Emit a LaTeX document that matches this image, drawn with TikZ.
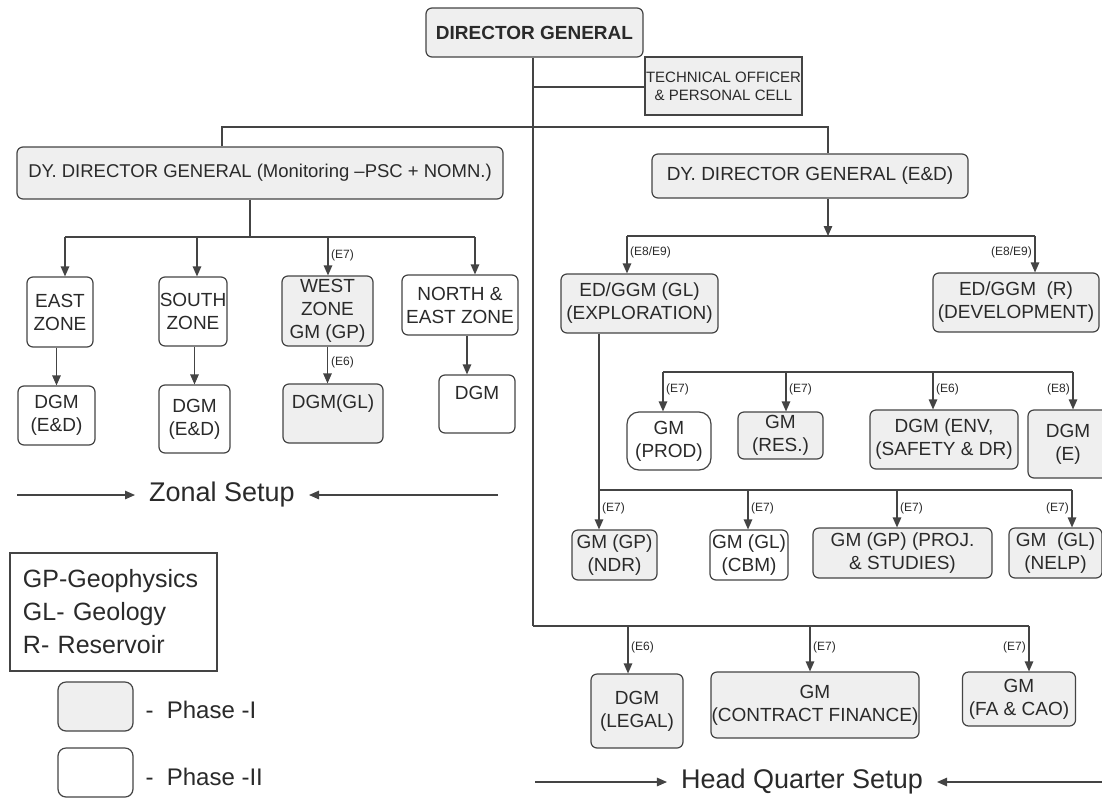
\documentclass[tikz,border=0pt]{standalone}
\usepackage{fontspec}
\setmainfont{Liberation Sans}
\usetikzlibrary{arrows.meta}
\definecolor{ink}{HTML}{2A2A2A}
\definecolor{edge}{HTML}{444444}
\definecolor{shade}{HTML}{EFEFEF}
\tikzset{
  box/.style={draw=edge, line width=1.2pt, rounded corners=6pt, align=center, text=ink,
              inner sep=0pt, font=\fontsize{19}{23}\selectfont},
  pone/.style={box, fill=shade},
  ptwo/.style={box, fill=white},
  wire/.style={draw=edge, line width=1.2pt},
  arr/.style={wire, -{Triangle[length=10pt,width=8.5pt]}},
  grade/.style={text=ink, font=\fontsize{12}{12}\selectfont, inner sep=1pt},
  setup/.style={text=ink, font=\fontsize{27}{27}\selectfont, inner xsep=14pt},
}
\begin{document}
\begin{tikzpicture}[x=1pt,y=-1pt]
\useasboundingbox[fill=white] (0,0) rectangle (1102,798);

% ---- top
\node[pone, minimum width=217pt, minimum height=49pt] (dg) at (534.5,32.5) {\bfseries DIRECTOR GENERAL};
\node[pone, sharp corners, minimum width=157pt, minimum height=58pt, font=\fontsize{15}{18}\selectfont] (tech) at (723.5,86) {TECHNICAL OFFICER\\\& PERSONAL CELL};
\node[pone, minimum width=486pt, minimum height=52pt, font=\fontsize{18.5}{23}\selectfont] (ldd) at (260,173) {DY. DIRECTOR GENERAL (Monitoring –PSC + NOMN.)};
\node[pone, minimum width=316pt, minimum height=44pt] (rdd) at (810,176) {DY. DIRECTOR GENERAL (E\&D)};

\coordinate (tj) at (533,87);
\coordinate (t1) at (222,127);
\coordinate (t2) at (828,127);
\coordinate (hq0) at (533,626);
\draw[wire] (dg.south -| hq0) -- (hq0);
\draw[wire] (tj) -- (tj -| tech.west);
\draw[wire] (t1 |- ldd.north) -- (t1) -- (t2) -- (t2 |- rdd.north);

% ---- zonal
\node[ptwo, minimum width=66pt, minimum height=70pt] (east) at (60,312) {EAST\\ZONE};
\node[ptwo, minimum width=68pt, minimum height=69pt] (south) at (193,311.5) {SOUTH\\ZONE};
\node[pone, minimum width=91pt, minimum height=70pt] (west) at (327.5,311) {WEST\\ZONE\\GM (GP)};
\node[ptwo, minimum width=116pt, minimum height=60pt] (ne) at (460,305) {NORTH \&\\EAST ZONE};
\node[ptwo, minimum width=77pt, minimum height=59pt] (dgma) at (56.5,415.5) {DGM\\(E\&D)};
\node[ptwo, minimum width=71pt, minimum height=68pt] (dgmb) at (194.5,419) {DGM\\(E\&D)};
\node[pone, minimum width=100pt, minimum height=59pt] (dgmgl) at (333,413.5) {DGM(GL)\\\mbox{}};
\node[ptwo, minimum width=76pt, minimum height=58pt] (dgmd) at (477,404) {DGM\\\mbox{}};

\coordinate (lj) at (250,237);
\coordinate (z1) at (65,237);
\coordinate (z2) at (197,237);
\coordinate (z3) at (328,237);
\coordinate (z4) at (475,237);
\coordinate (nx) at (467,0);
\draw[wire] (ldd.south -| lj) -- (lj);
\draw[wire] (z1) -- (z4);
\draw[arr] (z1) -- (z1 |- east.north);
\draw[arr] (z2) -- (z2 |- south.north);
\draw[arr] (z3) -- (z3 |- west.north);
\draw[arr] (z4) -- (z4 |- ne.north);
\draw[arr] (east.south -| dgma.north) -- (dgma.north);
\draw[arr] (south.south -| dgmb.north) -- (dgmb.north);
\draw[arr] (west.south) -- (west.south |- dgmgl.north);
\draw[arr] (ne.south -| nx) -- (dgmd.north -| nx);
\node[grade, anchor=west] (lz3) at (330,255) {(E7)};
\node[grade, anchor=west] (lgl) at (330,362) {(E6)};

\node[setup] (zonal) at (222,495) {Zonal Setup};
\coordinate (za) at (17,495);
\coordinate (zb) at (498,495);
\draw[arr] (za) -- (zonal.west);
\draw[arr] (zb) -- (zonal.east);

% ---- legend
\node[draw=edge, line width=1.2pt, text=ink, align=left, text width=181pt, inner xsep=13pt,
      minimum height=118pt, font=\fontsize{25}{33}\selectfont] (legend) at (113.5,612) {GP-Geophysics\\GL- Geology\\R- Reservoir};
\node[pone, rounded corners=8pt, minimum width=75pt, minimum height=49pt] (ph1) at (95.5,706.5) {};
\node[ptwo, rounded corners=8pt, minimum width=75pt, minimum height=49pt] (ph2) at (95.5,772.5) {};
\node[text=ink, anchor=west, font=\fontsize{24}{24}\selectfont] (tph1) at (142,710) {-\ \ Phase -I};
\node[text=ink, anchor=west, font=\fontsize{24}{24}\selectfont] (tph2) at (142,777) {-\ \ Phase -II};

% ---- E&D
\node[pone, minimum width=157pt, minimum height=59pt] (expl) at (639.5,303.5) {ED/GGM (GL)\\(EXPLORATION)};
\node[pone, minimum width=166pt, minimum height=59pt] (dev) at (1016,302.5) {ED/GGM~~(R)\\(DEVELOPMENT)};
\coordinate (rj) at (828,236);
\coordinate (e1) at (627,236);
\coordinate (e2) at (1035,236);
\draw[arr] (rdd.south -| rj) -- (rj);
\draw[wire] (e1) -- (e2);
\draw[arr] (e1) -- (e1 |- expl.north);
\draw[arr] (e2) -- (e2 |- dev.north);
\node[grade, anchor=west] (le1) at (629,252) {(E8/E9)};
\node[grade, anchor=east] (le2) at (1033,252) {(E8/E9)};

\node[ptwo, rounded corners=12pt, minimum width=84pt, minimum height=58pt] (prod) at (669,441) {GM\\(PROD)};
\node[pone, minimum width=85pt, minimum height=47pt] (res) at (780.5,435.5) {GM\\(RES.)};
\node[pone, minimum width=148pt, minimum height=59pt] (env) at (944,439.5) {DGM (ENV,\\(SAFETY \& DR)};
\node[pone, minimum width=80pt, minimum height=68pt] (dgme) at (1068,444) {DGM\\(E)};
\coordinate (u0) at (663,372);
\coordinate (u1) at (786,372);
\coordinate (u2) at (933,372);
\coordinate (u3) at (1073,372);
\draw[wire] (u0) -- (u3);
\draw[arr] (u0) -- (u0 |- prod.north);
\draw[arr] (u1) -- (u1 |- res.north);
\draw[arr] (u2) -- (u2 |- env.north);
\draw[arr] (u3) -- (u3 |- dgme.north);
\node[grade, anchor=west] (lu0) at (665,389) {(E7)};
\node[grade, anchor=west] (lu1) at (788,389) {(E7)};
\node[grade, anchor=west] (lu2) at (935,389) {(E6)};
\node[grade, anchor=east] (lu3) at (1071,389) {(E8)};

\node[pone, minimum width=85pt, minimum height=50pt] (ndr) at (614.5,555) {GM (GP)\\(NDR)};
\node[ptwo, minimum width=78pt, minimum height=50pt] (cbm) at (749,555) {GM (GL)\\(CBM)};
\node[pone, minimum width=179pt, minimum height=50pt] (proj) at (902.5,553) {GM (GP) (PROJ.\\\& STUDIES)};
\node[pone, minimum width=93pt, minimum height=50pt] (nelp) at (1055.5,553) {GM~~(GL)\\(NELP)};
\coordinate (g0) at (599,490);
\coordinate (g1) at (748,490);
\coordinate (g2) at (897,490);
\coordinate (g3) at (1072,490);
\draw[arr] (expl.south -| g0) -- (ndr.north -| g0);
\draw[wire] (g0) -- (g3);
\draw[arr] (g1) -- (g1 |- cbm.north);
\draw[arr] (g2) -- (g2 |- proj.north);
\draw[arr] (g3) -- (g3 |- nelp.north);
\node[grade, anchor=west] (lg0) at (601,508) {(E7)};
\node[grade, anchor=west] (lg1) at (750,508) {(E7)};
\node[grade, anchor=west] (lg2) at (899,508) {(E7)};
\node[grade, anchor=east] (lg3) at (1070,508) {(E7)};

% ---- head quarter
\node[pone, minimum width=92pt, minimum height=74pt] (legal) at (637,711) {DGM\\(LEGAL)};
\node[pone, minimum width=208pt, minimum height=66pt] (contract) at (815,705) {GM\\(CONTRACT FINANCE)};
\node[pone, minimum width=113pt, minimum height=54pt] (facao) at (1019,699) {GM\\(FA \& CAO)};
\coordinate (h1) at (628,626);
\coordinate (h2) at (810,626);
\coordinate (h3) at (1029,626);
\draw[wire] (hq0) -- (h3);
\draw[arr] (h1) -- (h1 |- legal.north);
\draw[arr] (h2) -- (h2 |- contract.north);
\draw[arr] (h3) -- (h3 |- facao.north);
\node[grade, anchor=west] (lh1) at (630,647) {(E6)};
\node[grade, anchor=west] (lh2) at (812,647) {(E7)};
\node[grade, anchor=east] (lh3) at (1027,647) {(E7)};

\node[setup] (hqs) at (802,782) {Head Quarter Setup};
\coordinate (ha) at (535,782);
\coordinate (hb) at (1102,782);
\draw[arr] (ha) -- (hqs.west);
\draw[arr] (hb) -- (hqs.east);
\end{tikzpicture}
\end{document}
